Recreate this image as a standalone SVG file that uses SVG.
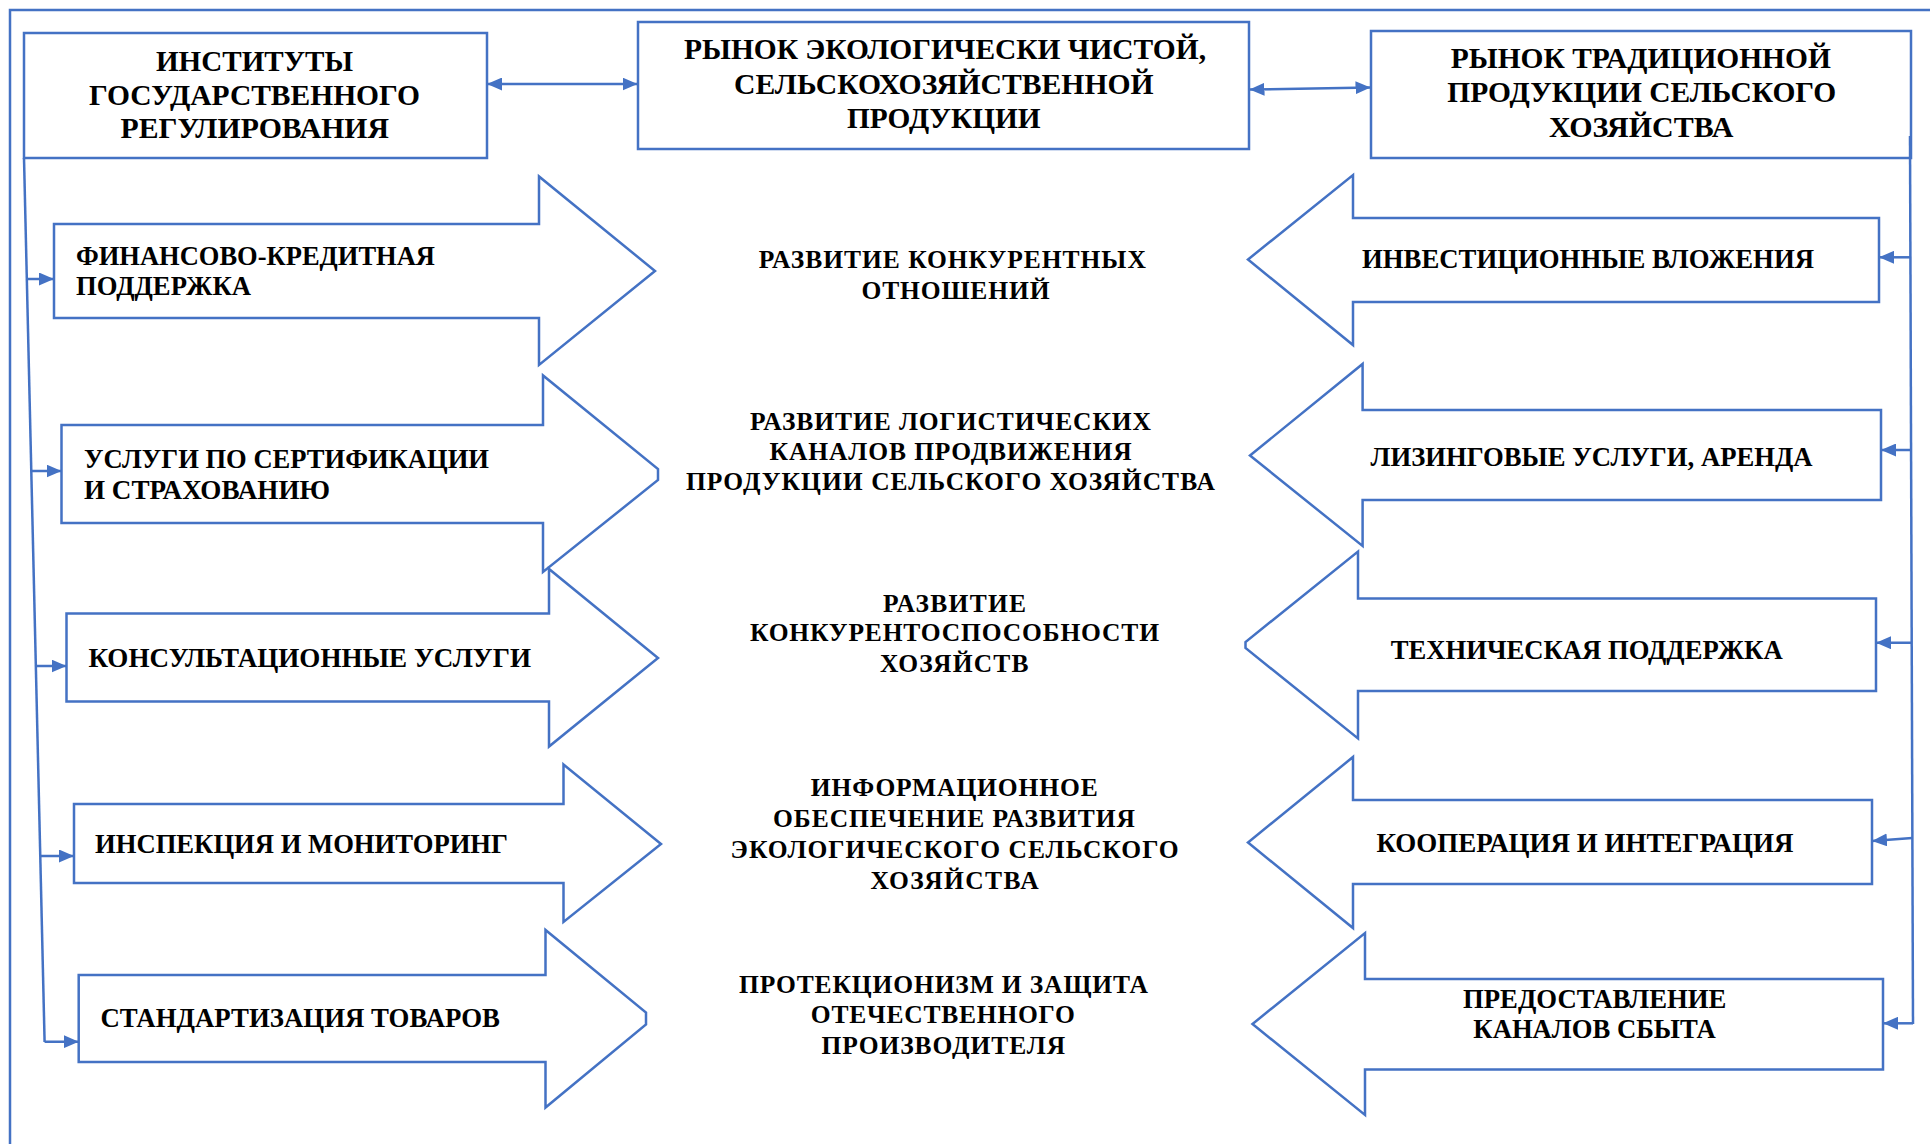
<svg xmlns="http://www.w3.org/2000/svg" width="1930" height="1144" viewBox="0 0 1930 1144">
<defs>
<marker id="ah" viewBox="0 0 15 13" refX="15" refY="6.5" markerWidth="15" markerHeight="13" markerUnits="userSpaceOnUse" orient="auto-start-reverse">
<path d="M0,0 L15,6.5 L0,13 Z" fill="#4472C4"/>
</marker>
<style>
.s{fill:#fff;stroke:#4472C4;stroke-width:2.5}
.c{fill:none;stroke:#4472C4;stroke-width:2.5}
.a{marker-end:url(#ah)}
.d{marker-start:url(#ah);marker-end:url(#ah)}
text{font-family:"Liberation Serif","Times New Roman",serif;font-weight:700;fill:#000}
.b{font-size:30px}
.t{font-size:26.5px}
.m{font-size:25.5px}
</style>
</defs>
<rect width="1930" height="1144" fill="#fff"/>
<g id="frame">
<path class="c" d="M10,1144 V10 H1930"/>
</g>
<g id="box-institutes">
<rect class="s" x="24" y="33" width="463" height="125"/>
<text class="b" x="156" y="71" textLength="197" lengthAdjust="spacingAndGlyphs">ИНСТИТУТЫ</text>
<text class="b" x="89" y="105" textLength="331" lengthAdjust="spacingAndGlyphs">ГОСУДАРСТВЕННОГО</text>
<text class="b" x="120.5" y="138.3" textLength="268.5" lengthAdjust="spacingAndGlyphs">РЕГУЛИРОВАНИЯ</text>
</g>
<g id="box-eco-market">
<rect class="s" x="638" y="22" width="611" height="127"/>
<text class="b" x="684" y="59.3" textLength="522" lengthAdjust="spacingAndGlyphs">РЫНОК ЭКОЛОГИЧЕСКИ ЧИСТОЙ,</text>
<text class="b" x="734" y="94.3" textLength="419.6" lengthAdjust="spacingAndGlyphs">СЕЛЬСКОХОЗЯЙСТВЕННОЙ</text>
<text class="b" x="847" y="127.7" textLength="193.6" lengthAdjust="spacingAndGlyphs">ПРОДУКЦИИ</text>
</g>
<g id="box-traditional-market">
<rect class="s" x="1371" y="31" width="540" height="127"/>
<text class="b" x="1450.8" y="68.3" textLength="380" lengthAdjust="spacingAndGlyphs">РЫНОК ТРАДИЦИОННОЙ</text>
<text class="b" x="1447.3" y="101.7" textLength="389" lengthAdjust="spacingAndGlyphs">ПРОДУКЦИИ СЕЛЬСКОГО</text>
<text class="b" x="1549" y="136.7" textLength="184.5" lengthAdjust="spacingAndGlyphs">ХОЗЯЙСТВА</text>
</g>
<g id="arrow-finance">
<path class="s" d="M54,224 H539 V176.5 L655,271 L539,365 V318 H54 Z"/>
<text class="t" x="76" y="265" textLength="359" lengthAdjust="spacingAndGlyphs">ФИНАНСОВО-КРЕДИТНАЯ</text>
<text class="t" x="76" y="295" textLength="175" lengthAdjust="spacingAndGlyphs">ПОДДЕРЖКА</text>
</g>
<g id="arrow-certification">
<path class="s" d="M61.5,425 H543 V375.5 L658,469 V480 L543,572 V523 H61.5 Z"/>
<text class="t" x="84" y="468.3" textLength="405" lengthAdjust="spacingAndGlyphs">УСЛУГИ ПО СЕРТИФИКАЦИИ</text>
<text class="t" x="84" y="499.3" textLength="246" lengthAdjust="spacingAndGlyphs">И СТРАХОВАНИЮ</text>
</g>
<g id="arrow-consulting">
<path class="s" d="M66.5,613.5 H549 V569 L658,658 L549,746.5 V701.5 H66.5 Z"/>
<text class="t" x="88.4" y="666.7" textLength="442.6" lengthAdjust="spacingAndGlyphs">КОНСУЛЬТАЦИОННЫЕ УСЛУГИ</text>
</g>
<g id="arrow-inspection">
<path class="s" d="M74,804 H563.5 V764.5 L661,844 L563.5,922 V883 H74 Z"/>
<text class="t" x="95" y="853.3" textLength="413" lengthAdjust="spacingAndGlyphs">ИНСПЕКЦИЯ И МОНИТОРИНГ</text>
</g>
<g id="arrow-standardization">
<path class="s" d="M78.7,975 H545.5 V930 L646,1012.5 V1024.5 L545.5,1107.5 V1062 H78.7 Z"/>
<text class="t" x="100.4" y="1027.3" textLength="399.6" lengthAdjust="spacingAndGlyphs">СТАНДАРТИЗАЦИЯ ТОВАРОВ</text>
</g>
<g id="arrow-investment">
<path class="s" d="M1879,218 H1353 V175 L1248,259.5 L1353,345 V302 H1879 Z"/>
<text class="t" x="1362" y="268.3" textLength="452" lengthAdjust="spacingAndGlyphs">ИНВЕСТИЦИОННЫЕ ВЛОЖЕНИЯ</text>
</g>
<g id="arrow-leasing">
<path class="s" d="M1881,410 H1362.6 V364 L1250,455.5 L1362.6,546 V500 H1881 Z"/>
<text class="t" x="1370.6" y="466" textLength="442" lengthAdjust="spacingAndGlyphs">ЛИЗИНГОВЫЕ УСЛУГИ, АРЕНДА</text>
</g>
<g id="arrow-technical">
<path class="s" d="M1876,598.5 H1358 V551.5 L1245.5,642 V648 L1358,738.5 V691 H1876 Z"/>
<text class="t" x="1390.7" y="659.3" textLength="392" lengthAdjust="spacingAndGlyphs">ТЕХНИЧЕСКАЯ ПОДДЕРЖКА</text>
</g>
<g id="arrow-cooperation">
<path class="s" d="M1872,800 H1353 V757 L1248,842.5 L1353,928 V884 H1872 Z"/>
<text class="t" x="1376.4" y="851.7" textLength="417" lengthAdjust="spacingAndGlyphs">КООПЕРАЦИЯ И ИНТЕГРАЦИЯ</text>
</g>
<g id="arrow-sales">
<path class="s" d="M1883,979 H1365 V933 L1252.5,1024 L1365,1115 V1069.5 H1883 Z"/>
<text class="t" x="1463" y="1008.3" textLength="263.4" lengthAdjust="spacingAndGlyphs">ПРЕДОСТАВЛЕНИЕ</text>
<text class="t" x="1473.3" y="1038.3" textLength="242.4" lengthAdjust="spacingAndGlyphs">КАНАЛОВ СБЫТА</text>
</g>
<g id="center-competition">
<text class="m" x="758.8" y="268" textLength="387" lengthAdjust="spacing">РАЗВИТИЕ КОНКУРЕНТНЫХ</text>
<text class="m" x="861.5" y="299" textLength="188" lengthAdjust="spacing">ОТНОШЕНИЙ</text>
</g>
<g id="center-logistics">
<text class="m" x="750" y="429.5" textLength="401" lengthAdjust="spacing">РАЗВИТИЕ ЛОГИСТИЧЕСКИХ</text>
<text class="m" x="769.6" y="460" textLength="362" lengthAdjust="spacing">КАНАЛОВ ПРОДВИЖЕНИЯ</text>
<text class="m" x="686" y="490" textLength="529" lengthAdjust="spacing">ПРОДУКЦИИ СЕЛЬСКОГО ХОЗЯЙСТВА</text>
</g>
<g id="center-competitiveness">
<text class="m" x="883" y="611.5" textLength="143" lengthAdjust="spacing">РАЗВИТИЕ</text>
<text class="m" x="750" y="641" textLength="409" lengthAdjust="spacing">КОНКУРЕНТОСПОСОБНОСТИ</text>
<text class="m" x="880" y="672" textLength="148.5" lengthAdjust="spacing">ХОЗЯЙСТВ</text>
</g>
<g id="center-information">
<text class="m" x="810.8" y="796" textLength="287" lengthAdjust="spacing">ИНФОРМАЦИОННОЕ</text>
<text class="m" x="773" y="827" textLength="362" lengthAdjust="spacing">ОБЕСПЕЧЕНИЕ РАЗВИТИЯ</text>
<text class="m" x="730.6" y="858" textLength="448" lengthAdjust="spacing">ЭКОЛОГИЧЕСКОГО СЕЛЬСКОГО</text>
<text class="m" x="870.6" y="888.5" textLength="168" lengthAdjust="spacing">ХОЗЯЙСТВА</text>
</g>
<g id="center-protectionism">
<text class="m" x="739" y="993" textLength="409" lengthAdjust="spacing">ПРОТЕКЦИОНИЗМ И ЗАЩИТА</text>
<text class="m" x="810.8" y="1023" textLength="264" lengthAdjust="spacing">ОТЕЧЕСТВЕННОГО</text>
<text class="m" x="821.6" y="1053.5" textLength="243.5" lengthAdjust="spacing">ПРОИЗВОДИТЕЛЯ</text>
</g>
<g id="connectors">
<line class="c d" x1="487" y1="84" x2="637.5" y2="84"/>
<line class="c d" x1="1249.5" y1="89.5" x2="1370.5" y2="87.5"/>
<line class="c" x1="24" y1="158" x2="44.6" y2="1042"/>
<line class="c a" x1="27" y1="279" x2="54" y2="279"/>
<line class="c a" x1="31.3" y1="471" x2="61.5" y2="471"/>
<line class="c a" x1="35.8" y1="666" x2="66.5" y2="666"/>
<line class="c a" x1="40.3" y1="856" x2="74" y2="856"/>
<line class="c a" x1="44.6" y1="1041.7" x2="78.7" y2="1041.7"/>
<line class="c" x1="1910" y1="136" x2="1913" y2="1024"/>
<line class="c a" x1="1910.4" y1="257.3" x2="1879" y2="257.3"/>
<line class="c a" x1="1911" y1="450" x2="1881" y2="450"/>
<line class="c a" x1="1911.6" y1="642.7" x2="1876" y2="642.7"/>
<line class="c a" x1="1912.2" y1="838" x2="1872" y2="841"/>
<line class="c a" x1="1913" y1="1023.3" x2="1883" y2="1023.3"/>
</g>
</svg>
